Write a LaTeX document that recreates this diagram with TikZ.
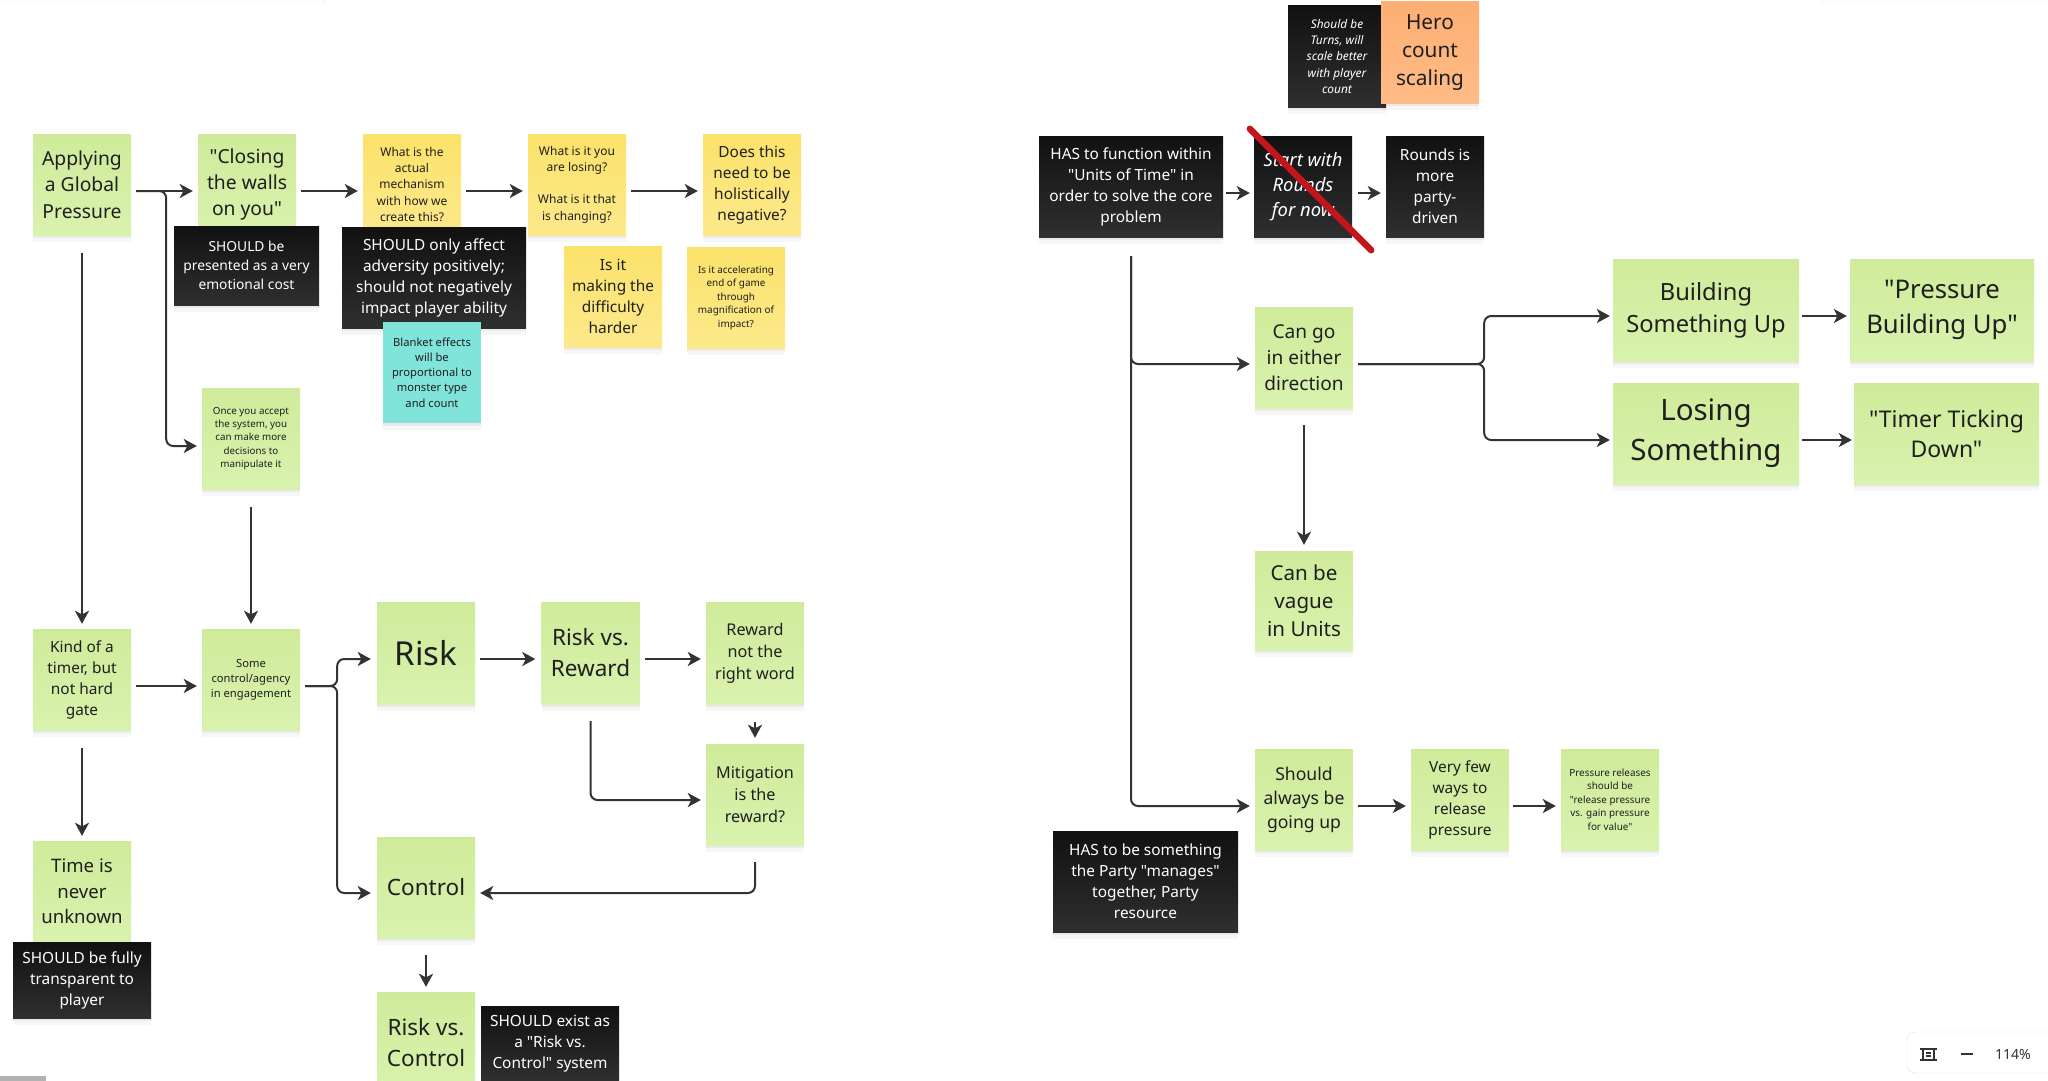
\documentclass[tikz,border=0pt]{standalone}
\usepackage{fontspec}
\setmainfont{Noto Sans}
\newfontfamily\noto{Noto Sans}
\usetikzlibrary{arrows.meta,calc}
\definecolor{ink}{HTML}{1F1F1F}
\definecolor{lc}{HTML}{333333}
\definecolor{gtop}{HTML}{CFEB9A}
\definecolor{gbot}{HTML}{D9F2AE}
\definecolor{ytop}{HTML}{FBE26A}
\definecolor{ybot}{HTML}{FDE98C}
\definecolor{cyanS}{HTML}{80E4DB}
\definecolor{otop}{HTML}{FDAF74}
\definecolor{obot}{HTML}{FFBB86}
\definecolor{btop}{HTML}{111111}
\definecolor{bbot}{HTML}{2F2F2F}
\definecolor{strikecol}{HTML}{C2161C}
\newcommand\fz[2]{\noto\fontsize{#1pt}{#2pt}\selectfont}
\begin{document}
\begin{tikzpicture}[x=1pt,y=-1pt,
  box/.style n args={2}{rectangle, inner sep=0pt, minimum width=#1pt, minimum height=#2pt, align=center, text=ink,
      preaction={fill=black, fill opacity=0.05, transform canvas={yshift=-3pt}},
      preaction={fill=black, fill opacity=0.03, transform canvas={yshift=-7pt}}},
  green/.style={shade, top color=gtop, bottom color=gbot},
  yel/.style={shade, top color=ytop, bottom color=ybot},
  cya/.style={fill=cyanS},
  ora/.style={shade, top color=otop, bottom color=obot},
  blk/.style={shade, top color=btop, bottom color=bbot, text=white},
  arr/.style={draw=lc, line width=2pt, rounded corners=7pt, -{Stealth[length=13pt,width=14pt,inset=3.5pt]}},
  strikeline/.style={draw=strikecol, line width=6.5pt, line cap=round},
]
\useasboundingbox (0,0) rectangle (2048,1081);
\fill[white] (0,0) rectangle (2048,1081);

% UI panels
\draw[draw=black!9, fill=white, rounded corners=6pt] (-20,-30) rectangle (328,2);
\draw[draw=black!9, fill=white, rounded corners=6pt] (1819,-30) rectangle (2070,2);
\fill[black!30] (0,1076) rectangle (46,1081);

% ---------- left section ----------
\node[box={98}{101}, green, font=\fz{19.3}{26.3}] (appl) at (82,184.5) {Applying\\a Global\\Pressure};
\node[box={98}{101}, green, font=\fz{19.3}{26.3}] (closing) at (247,184.5) {"Closing\\the walls\\on you"};
\node[box={145}{79}, blk, font=\fz{13.8}{19}] (blk1) at (246.5,265.5) {SHOULD be\\presented as a very\\emotional cost};
\node[box={98}{101}, yel, font=\fz{12}{16.3}] (mech) at (412,184.5) {What is the\\actual\\mechanism\\with how we\\create this?};
\node[box={184}{101}, blk, font=\fz{15.4}{21}] (blk2) at (434,277.5) {SHOULD only affect\\adversity positively;\\should not negatively\\impact player ability};
\node[box={98}{101}, cya, font=\fz{11.2}{15.2}] (blanket) at (432,372.5) {Blanket effects\\will be\\proportional to\\monster type\\and count};
\node[box={98}{101}, yel, font=\fz{12}{16.3}] (losing) at (577,184.5) {What is it you\\are losing?\\~\\What is it that\\is changing?};
\node[box={98}{101}, yel, font=\fz{15.4}{21}] (does) at (752,184.5) {Does this\\need to be\\holistically\\negative?};
\node[box={98}{101}, yel, font=\fz{15.4}{21}] (harder) at (613,296.5) {Is it\\making the\\difficulty\\harder};
\node[box={98}{101}, yel, font=\fz{9.9}{13.5}] (accel) at (736,297.5) {Is it accelerating\\end of game\\through\\magnification of\\impact?};
\node[box={98}{101}, green, font=\fz{9.8}{13.3}] (once) at (251,438.5) {Once you accept\\the system, you\\can make more\\decisions to\\manipulate it};

\node[box={98}{101}, green, font=\fz{15.4}{21}] (kind) at (82,679.5) {Kind of a\\timer, but\\not hard\\gate};
\node[box={98}{101}, green, font=\fz{11.2}{15.2}] (some) at (251,679.5) {Some\\control/agency\\in engagement};
\node[box={98}{102}, green, font=\fz{33}{40}] (risk) at (426,653) {Risk};
\node[box={98}{102}, green, font=\fz{22.5}{31}] (rvr) at (590.5,653) {Risk vs.\\Reward};
\node[box={98}{102}, green, font=\fz{16.2}{22}] (reward) at (755,653) {Reward\\not the\\right word};
\node[box={98}{101}, green, font=\fz{16.2}{22}] (mitig) at (755,794.5) {Mitigation\\is the\\reward?};
\node[box={98}{101}, green, font=\fz{22.5}{30}] (control) at (426,887.5) {Control};
\node[box={98}{101}, green, font=\fz{22.5}{30.7}] (rvc) at (426,1042.5) {Risk vs.\\Control};
\node[box={138}{75}, blk, font=\fz{15.4}{21}] (blk3) at (550,1043.5) {SHOULD exist as\\a "Risk vs.\\Control" system};
\node[box={98}{101}, green, font=\fz{18.6}{25.3}] (time) at (82,891.5) {Time is\\never\\unknown};
\node[box={138}{76}, blk, font=\fz{15.4}{21}] (blk4) at (82,980) {SHOULD be fully\\transparent to\\player};

% ---------- right section ----------
\node[box={98}{101}, blk, font=\fz{11.9}{16.2}\itshape] (turns) at (1337,56.5) {Should be\\Turns, will\\scale better\\with player\\count};
\node[box={98}{101}, ora, font=\fz{20.8}{28.3}] (hero) at (1430,52.5) {Hero\\count\\scaling};
\node[box={184}{101}, blk, font=\fz{15.4}{21}] (has1) at (1131,186.5) {HAS to function within\\"Units of Time" in\\order to solve the core\\problem};
\node[box={98}{101}, blk, font=\fz{18.4}{25}\itshape] (start) at (1303,186.5) {Start with\\Rounds\\for now};
\node[box={98}{101}, blk, font=\fz{15.4}{21}] (rounds) at (1435,186.5) {Rounds is\\more\\party-\\driven};
\node[box={98}{101}, green, font=\fz{19.1}{26}] (cango) at (1304,357.5) {Can go\\in either\\direction};
\node[box={186}{102}, green, font=\fz{23.7}{32.3}] (building) at (1706,310) {Building\\Something Up};
\node[box={184}{102}, green, font=\fz{25.7}{35}] (pbu) at (1942,310) {"Pressure\\Building Up"};
\node[box={186}{101}, green, font=\fz{29.5}{40}] (losingS) at (1706,433.5) {Losing\\Something};
\node[box={185}{101}, green, font=\fz{23}{30}] (timer) at (1946.5,433.5) {"Timer Ticking\\Down"};
\node[box={98}{99}, green, font=\fz{20.6}{28}] (vague) at (1304,600.5) {Can be\\vague\\in Units};
\node[box={98}{101}, green, font=\fz{17.6}{24}] (always) at (1304,799.5) {Should\\always be\\going up};
\node[box={98}{101}, green, font=\fz{15.4}{21}] (fewways) at (1460,799.5) {Very few\\ways to\\release\\pressure};
\node[box={98}{101}, green, font=\fz{9.9}{13.5}] (prel) at (1610,799.5) {Pressure releases\\should be\\"release pressure\\vs. gain pressure\\for value"};
\node[box={185}{101}, blk, font=\fz{15.4}{21}] (has2) at (1145.5,881.5) {HAS to be something\\the Party "manages"\\together, Party\\resource};

% ---------- connectors (left) ----------
\draw[arr] ($(appl.east)+(5,6.5)$) -- ($(closing.west)+(-5,6.5)$);
\draw[arr] ($(appl.east)+(5,6.5)$) -- ($(appl.east)+(35,6.5)$) |- ($(once.west)+(-5,7.5)$);
\draw[arr] ($(closing.east)+(5,6.5)$) -- ($(mech.west)+(-5,6.5)$);
\draw[arr] ($(mech.east)+(5,6.5)$) -- ($(losing.west)+(-5,6.5)$);
\draw[arr] ($(losing.east)+(5,6.5)$) -- ($(does.west)+(-5,6.5)$);
\draw[arr] ($(appl.south)+(0,18)$) -- ($(kind.north)+(0,-5)$);
\draw[arr] ($(once.south)+(0,18)$) -- ($(some.north)+(0,-5)$);
\draw[arr] ($(kind.east)+(5,6.5)$) -- ($(some.west)+(-5,6.5)$);
\draw[arr] ($(kind.south)+(0,18)$) -- ($(time.north)+(0,-5)$);
\draw[arr] ($(some.east)+(5,6.5)$) -- ($(some.east)+(37,6.5)$) |- ($(risk.west)+(-6,6)$);
\draw[arr] ($(some.east)+(5,6.5)$) -- ($(some.east)+(37,6.5)$) |- ($(control.west)+(-6,5.5)$);
\draw[arr] ($(risk.east)+(5,6)$) -- ($(rvr.west)+(-6,6)$);
\draw[arr] ($(rvr.east)+(5,6)$) -- ($(reward.west)+(-5,6)$);
\draw[arr] ($(reward.south)+(0,18)$) -- ($(mitig.north)+(0,-6)$);
\draw[arr] ($(rvr.south)+(0,17)$) |- ($(mitig.west)+(-5,5.5)$);
\draw[arr] ($(mitig.south)+(0,17)$) |- ($(control.east)+(5,5.5)$);
\draw[arr] ($(control.south)+(0,17)$) -- ($(rvc.north)+(0,-5)$);

% ---------- connectors (right) ----------
\draw[arr] ($(has1.east)+(3,6.5)$) -- ($(start.west)+(-4,6.5)$);
\draw[arr] ($(start.east)+(6,6.5)$) -- ($(rounds.west)+(-5,6.5)$);
\draw[arr] ($(has1.south)+(0,19)$) |- ($(cango.west)+(-5,6.5)$);
\draw[arr] ($(has1.south)+(0,19)$) |- ($(always.west)+(-5,6.5)$);
\draw[arr] ($(cango.east)+(5,6.5)$) -- ($(cango.east)+(131,6.5)$) |- ($(building.west)+(-3,6)$);
\draw[arr] ($(cango.east)+(5,6.5)$) -- ($(cango.east)+(131,6.5)$) |- ($(losingS.west)+(-3,6.5)$);
\draw[arr] ($(building.east)+(3,6)$) -- ($(pbu.west)+(-3,6)$);
\draw[arr] ($(losingS.east)+(3,6.5)$) -- ($(timer.west)+(-2,6.5)$);
\draw[arr] ($(cango.south)+(0,17)$) -- ($(vague.north)+(0,-6)$);
\draw[arr] ($(always.east)+(5,6.5)$) -- ($(fewways.west)+(-5,6.5)$);
\draw[arr] ($(fewways.east)+(4,6.5)$) -- ($(prel.west)+(-5,6.5)$);

% strike-through on "Start with Rounds for now"
\draw[strikeline] ($(start.north west)+(-4,-7)$) -- ($(start.south east)+(19,13)$);

% zoom control (UI)
\draw[draw=black!12, fill=white, rounded corners=8pt] (1907,1032) rectangle (2070,1073);
\draw[lc, line width=1.3pt] (1923,1049) rectangle (1934,1060);
\draw[lc, line width=1.1pt] (1926,1053) -- (1931,1053) (1926,1056) -- (1931,1056);
\draw[lc, line width=1.1pt] (1920,1049) -- (1937,1049) (1920,1060) -- (1937,1060);
\draw[lc, line width=1.3pt] (1961,1054) -- (1973,1054);
\node[font=\fz{14}{16}, text=lc, anchor=center] (zoompct) at (2013,1054) {114\%};
\end{tikzpicture}
\end{document}
